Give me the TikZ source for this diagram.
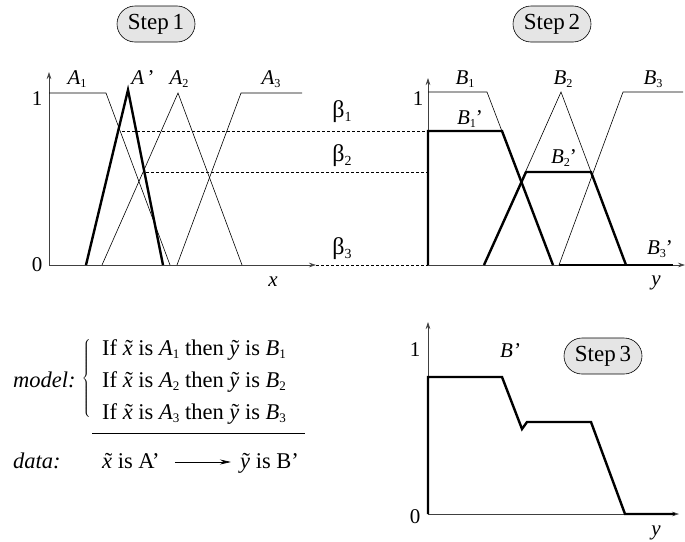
\documentclass[tikz,border=0pt]{standalone}
\usepackage{fontspec}
\setmainfont{Liberation Serif}
\usetikzlibrary{arrows.meta,shapes.misc}
\newcommand\sbs[1]{\raisebox{-0.3ex}{\scalebox{0.58}{#1}}}
\newcommand\tlx{\makebox[0pt][l]{\hspace{0.12em}\char"02DC}\textit{x}}
\newcommand\tly{\makebox[0pt][l]{\hspace{0.1em}\char"02DC}\textit{y}}
\begin{document}
\begin{tikzpicture}[x=1pt,y=-1pt,
  lab/.style={font=\fontsize{21}{23}\selectfont, inner sep=0pt},
  num/.style={font=\fontsize{21}{23}\selectfont, inner sep=0pt},
  txt/.style={font=\fontsize{22.5}{25}\selectfont, inner sep=0pt, anchor=base west},
  stepbox/.style={draw, line width=0.6pt, rounded rectangle, fill=black!10, font=\fontsize{23}{25}\selectfont, minimum width=78pt, minimum height=36pt, inner sep=0pt},
  axis/.style={draw=black!75, line width=0.6pt, -{Stealth[length=7pt,width=4.5pt]}},
  thinmf/.style={line width=0.6pt},
  thickmf/.style={line width=2.4pt},
  dashln/.style={dash pattern=on 3pt off 2pt, line width=0.6pt}
]
\useasboundingbox (0,0) rectangle (685,541);

% ---------- Step 1 ----------
\node[stepbox] (s1) at (156,24) {Step\,1};
\coordinate (o1) at (49,265);
\coordinate (t1) at (49,72);
\coordinate (r1) at (316,265);
\draw[axis] (o1) -- (t1);
\draw[axis] (o1) -- (r1);
\node[num] (one1) at (37,99) {1};
\node[num] (zero1) at (37,265) {0};
\node[lab,font=\fontsize{21}{23}\selectfont\itshape] (xl) at (273,282) {x};
% A1
\draw[thinmf] (49,93) -- (106,93) -- (170,265);
% A2
\draw[thinmf] (102,265) -- (178,93) -- (242,265);
% A3
\draw[thinmf] (177,265) -- (241,93) -- (302,93);
% A'
\draw[thickmf, line join=miter] (86,265) -- (128,90) -- (163,265);
\node[lab] (a1) at (77,79) {\textit{A}\sbs{1}};
\node[lab] (ap) at (143,78) {\textit{A}\,’};
\node[lab] (a2) at (179,79) {\textit{A}\sbs{2}};
\node[lab] (a3) at (271,79) {\textit{A}\sbs{3}};

% ---------- Step 2 ----------
\node[stepbox] (s2) at (552,24) {Step\,2};
\coordinate (o2) at (428,265);
\coordinate (t2) at (428,78);
\coordinate (r2) at (685,265);
\draw[axis] (o2) -- (t2);
\draw[axis] (o2) -- (r2);
\node[num] (one2) at (418,99) {1};
\node[lab,font=\fontsize{21}{23}\selectfont\itshape] (yl1) at (656,283) {y};
% B1
\draw[thinmf] (428,92) -- (487,92) -- (553,265);
% B2
\draw[thinmf] (484,265) -- (561,92) -- (626,265);
% B3
\draw[thinmf] (559,265) -- (623,92) -- (683,92);
% B1'
\draw[thickmf, line join=miter] (428,265) -- (428,131) -- (502,131) -- (553,265);
% B2'
\draw[thickmf, line join=miter] (484,265) -- (526,172) -- (591,172) -- (626,265);
% B3'
\draw[thickmf] (559,265) -- (673,265);
\node[lab] (b1) at (465,79) {\textit{B}\sbs{1}};
\node[lab] (b2) at (563,79) {\textit{B}\sbs{2}};
\node[lab] (b3) at (653,79) {\textit{B}\sbs{3}};
\node[lab] (b1p) at (470,119) {\textit{B}\sbs{1}’};
\node[lab] (b2p) at (564,158) {\textit{B}\sbs{2}’};
\node[lab] (b3p) at (660,249) {\textit{B}\sbs{3}’};

% ---------- beta links ----------
\draw[dashln] (122,131) -- (428,131);
\draw[dashln] (146,172) -- (428,172);
\draw[dashln] (r1) -- (o2);
\node[lab,font=\fontsize{24}{26}\selectfont] (be1) at (342,112) {β\sbs{1}};
\node[lab,font=\fontsize{24}{26}\selectfont] (be2) at (342,156) {β\sbs{2}};
\node[lab,font=\fontsize{24}{26}\selectfont] (be3) at (342,249) {β\sbs{3}};

% ---------- Step 3 ----------
\node[stepbox] (s3) at (603,356) {Step\,3};
\coordinate (o3) at (428,514);
\coordinate (t3) at (428,322);
\coordinate (r3) at (679,514);
\draw[axis] (o3) -- (t3);
\draw[axis] (o3) -- (r3);
\node[num] (one3) at (415,350) {1};
\node[num] (zero3) at (415,517) {0};
\node[lab,font=\fontsize{21}{23}\selectfont\itshape] (yl2) at (656,533) {y};
\node[lab] (bp) at (510,351) {\textit{B’}};
\draw[thickmf, line join=miter] (428,514) -- (428,377) -- (502,377) -- (522,429) -- (527,422) -- (591,422) -- (625,514) -- (675,514);

% ---------- rules ----------
\node[txt] (m) at (13,387) {\textit{model:}};
\node[inner sep=0pt] (br) at (87,379) {$\left\{\vrule height 38pt depth 38pt width 0pt\right.$};
\node[txt] (r1t) at (102,355) {If \tlx{} is \textit{A}\sbs{1} then \tly{} is \textit{B}\sbs{1}};
\node[txt] (r2t) at (102,387) {If \tlx{} is \textit{A}\sbs{2} then \tly{} is \textit{B}\sbs{2}};
\node[txt] (r3t) at (102,419) {If \tlx{} is \textit{A}\sbs{3} then \tly{} is \textit{B}\sbs{3}};
\coordinate (hl) at (92,433);
\coordinate (hr) at (305,433);
\draw[line width=0.7pt] (hl) -- (hr);
\node[txt] (d) at (13,468) {\textit{data:}};
\node[txt] (dl) at (102,468) {\tlx{} is A’};
\node[txt] (dr) at (240,468) {\tly{} is B’};
\draw[line width=0.7pt, -{Stealth[length=11pt,width=5pt]}] ([xshift=15pt,yshift=6pt]dl.base east) -- ([xshift=-9pt,yshift=6pt]dr.base west);
\end{tikzpicture}
\end{document}
